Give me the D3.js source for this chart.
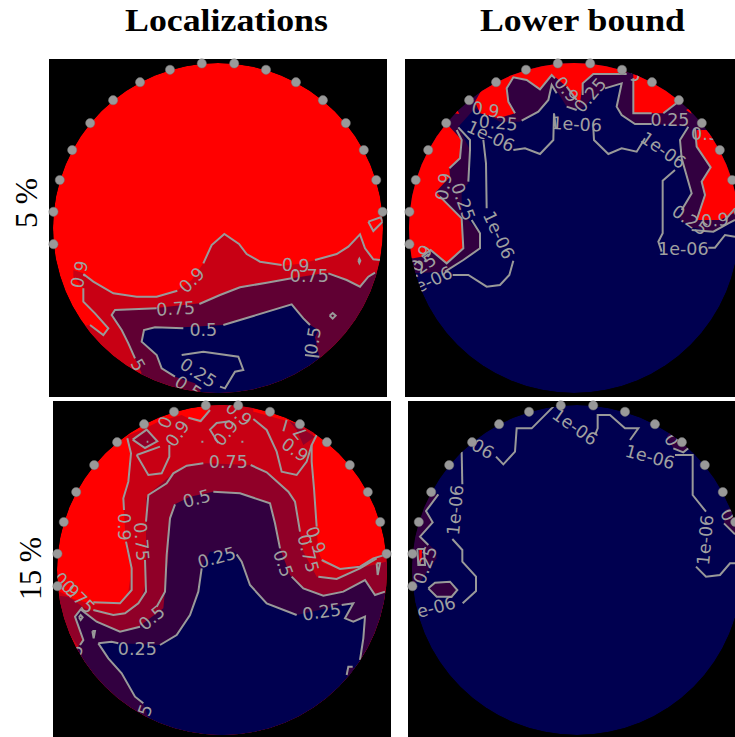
<!DOCTYPE html>
<html><head><meta charset="utf-8"><style>html,body{margin:0;padding:0;background:#fff;overflow:hidden}svg{display:block}text{font-family:"DejaVu Sans"}</style>
<script src="https://cdn.jsdelivr.net/npm/d3@7/dist/d3.min.js"></script></head><body>
<script>
// Column and row headings
const columnTitles = ["Localizations", "Lower bound"];
const rowTitles = ["5 %", "15 %"];
// Sensor angles, degrees clockwise from the top of the disc
const sensorAngles = [-95.625,-84.375,-73.125,-61.875,-50.625,-39.375,-28.125,-16.875,-5.625,5.625,16.875,28.125,39.375,50.625,61.875,73.125,84.375];

// Panel A: Localizations, 5 %
const a_regions = [
 {c:"#c80014",p:[[100,660],[130,670],[160,695],[220,730],[290,740],[350,740],[410,722],[455,690],[490,640],[515,585],[553,552],[597,582],[620,612],[660,635],[725,648],[790,640],[825,630],[890,612],[925,590],[960,553],[975,595],[1000,628],[1050,630],[1050,1050],[20,1050],[100,830],[150,825],[190,855],[205,835],[165,790],[130,755],[130,715],[100,680]]},
 {c:"#600033",p:[[215,795],[225,780],[340,775],[480,760],[540,735],[600,712],[680,698],[755,685],[860,668],[920,690],[960,710],[985,680],[1005,668],[1050,668],[1050,1050],[250,1050],[250,1000],[305,970],[285,925],[265,880],[245,840]]},
 {c:"#000050",p:[[305,880],[312,840],[345,832],[430,832],[550,825],[640,798],[755,763],[790,805],[810,825],[835,840],[825,862],[838,922],[900,1050],[490,1050],[480,1020],[465,1000],[405,980],[365,955],[350,915]]}
];
const a_lines = [
 [[130,672],[160,695],[220,730],[290,740],[350,740],[412,722]],
 [[490,640],[515,585],[553,552],[597,582],[620,612],[660,635],[725,645]],
 [[825,630],[890,612],[925,590],[960,553],[975,595],[1000,628],[1020,630]],
 [[130,715],[130,755],[165,790],[205,835],[190,855],[150,825]],
 [[985,515],[1022,502],[1028,515],[1000,543],[985,515]],
 [[955,632],[958,626],[961,632],[958,639],[955,632]],
 [[350,775],[225,780],[215,795],[245,840],[265,880],[285,925]],
 [[478,762],[540,735],[600,712],[680,698],[755,685]],
 [[865,670],[920,690],[960,710],[985,680],[1005,668]],
 [[430,835],[345,832],[312,840],[305,875],[350,915],[365,955],[405,980]],
 [[550,825],[640,798],[755,763],[790,805],[810,825]],
 [[795,915],[838,920]],
 [[869,797],[878,789],[887,797],[878,806],[869,797]],
 [[425,915],[490,905],[595,920],[610,960],[585,965],[555,1015],[540,1010]]
];
const a_labels = [
 ["0.9",118,673,-78],["0.9",455,690,-45],["0.9",767,645,3],["0.75",808,677,0],["0.75",407,775,-3],
 ["0.5",490,838,0],["0.5",818,872,-80],["5",295,945,60],["0.25",475,968,33],["0.5",445,1012,33]
];

// Panel B: Lower bound, 5 %
const b_regions = [
 {c:"#320040",p:[[40,670],[135,665],[190,630],[240,595],[240,550],[205,510],[185,490],[185,420],[205,400],[210,300],[180,240],[175,230],[225,175],[300,215],[360,215],[415,185],[445,150],[455,105],[475,130],[500,170],[530,180],[555,170],[570,150],[615,115],[665,100],[650,170],[665,195],[705,222],[755,222],[870,230],[840,270],[845,325],[875,430],[845,480],[840,510],[870,530],[940,545],[985,520],[1030,505],[1030,20],[10,20],[10,670]]},
 {c:"#ff0000",p:[[135,215],[185,270],[180,325],[148,355],[150,380],[108,425],[185,505],[190,595],[140,640],[92,600],[65,620],[40,625],[10,625],[10,215]]},
 {c:"#ff0000",p:[[225,155],[240,190],[295,205],[345,190],[325,155],[320,115],[340,82],[380,90],[420,118],[455,75],[470,85],[500,110],[530,150],[540,160],[548,100],[580,72],[640,72],[690,65],[690,20],[300,20]]},
 {c:"#ff0000",p:[[700,60],[700,190],[790,190],[835,155],[860,110],[730,30]]},
 {c:"#ff0000",p:[[890,240],[890,290],[932,352],[905,395],[915,435],[890,510],[960,510],[1040,470],[1040,280],[930,240]]},
 {c:"#ff0000",p:[[162,190],[172,180],[178,192]]},
 {c:"#ff0000",p:[[858,180],[868,175],[875,192]]}
];
const b_lines = [
 [[250,270],[258,340],[260,475]],
 [[340,300],[375,295],[420,312],[460,270],[462,190],[468,235]],
 [[580,235],[582,270],[625,312],[665,295],[710,305],[735,265]],
 [[825,360],[788,392],[788,550],[775,575],[785,605]],
 [[925,593],[945,593],[975,555],[1005,560]],
 [[158,675],[205,675],[260,710],[300,705],[328,675],[340,632]],
 [[135,665],[190,630],[240,595],[240,550],[215,510]],
 [[175,232],[210,270],[210,300],[205,395]],
 [[365,212],[415,185],[445,150],[455,105],[470,130]],
 [[500,170],[530,180]],
 [[615,115],[665,100],[650,170],[665,195],[705,222],[755,222]],
 [[865,230],[840,270],[845,325],[875,430],[845,480]],
 [[875,540],[940,545],[985,520],[1005,510]],
 [[170,240],[185,270],[180,325],[148,355]],
 [[120,440],[185,505],[190,595],[140,640],[92,600],[65,620]],
 [[345,190],[325,155],[320,115],[340,82],[380,90],[420,118],[455,75],[465,85]],
 [[500,110],[530,150]],
 [[548,135],[548,100],[580,72],[640,72],[680,72]],
 [[700,85],[700,190],[755,190]],
 [[790,190],[835,155]],
 [[885,235],[890,290],[932,352],[905,395],[915,435],[890,510]],
 [[975,510],[1005,475]]
];
const b_labels = [
 ["0.9",257,178,10],["0.25",295,218,5],["1e-06",272,258,25],["1e-06",530,222,3],["0.9",500,118,50],["0.25",570,135,-50],
 ["0.25",810,210,0],["1e-06",790,300,35],["0.9",130,410,-80],["0.25",190,455,70],["1e-06",297,555,65],
 ["0.9",62,625,-60],["0.25",55,655,-35],["1e-06",85,695,-25],["0.25",870,510,35],["0.9",945,510,-5],["1e-06",850,595,0],["0.9",915,250,0],["5",705,75,0]
];

// Panel C: Localizations, 15 %
const c_regions = [
 {c:"#c80014",p:[[20,590],[60,590],[100,612],[160,628],[240,628],[265,590],[275,520],[258,460],[250,310],[265,260],[272,175],[262,122],[325,95],[355,80],[425,60],[445,70],[480,85],[510,40],[510,0],[640,0],[640,50],[730,75],[790,90],[826,100],[820,118],[815,200],[822,280],[830,400],[835,470],[850,505],[900,522],[960,510],[1000,490],[1060,470],[1060,1040],[20,1040]]},
 {c:"#900028",p:[[278,134],[320,104],[352,139],[315,159]]},
 {c:"#900028",p:[[745,75],[785,100],[825,125],[790,150],[770,105]]},
 {c:"#900028",p:[[20,600],[85,605],[135,640],[200,660],[250,660],[300,625],[318,560],[318,310],[340,285],[400,235],[440,212],[500,205],[630,210],[680,232],[745,290],[765,320],[780,410],[790,470],[830,545],[890,552],[960,520],[1060,495],[1060,1040],[20,1040]]},
 {c:"#c80014",p:[[90,720],[112,750],[120,770],[80,760]]},
 {c:"#320040",p:[[122,643],[170,680],[240,710],[290,700],[370,640],[385,480],[390,370],[400,330],[450,305],[520,290],[600,295],[690,325],[705,385],[720,460],[750,540],[790,580],[850,602],[910,590],[975,555],[1005,600],[1060,590],[1060,1040],[20,1040],[60,770],[115,755],[130,735],[105,665]]},
 {c:"#000050",p:[[175,745],[215,740],[240,745],[360,750],[410,720],[450,660],[475,590],[485,520],[510,470],[585,470],[605,500],[630,570],[680,625],[770,660],[905,630],[940,625],[915,670],[940,680],[975,665],[970,730],[962,795],[1000,800],[1000,1040],[300,1040],[325,968],[310,925],[285,905],[245,835],[205,790]]},
 {c:"#320040",p:[[938,815],[925,815],[918,832],[925,850],[950,830]]}
];
const c_lines = [
 [[262,130],[273,175],[265,260],[250,310],[252,345]],
 [[258,440],[275,520],[275,585],[240,625],[160,622]],
 [[490,205],[440,212],[400,235],[380,265],[325,300],[318,380]],
 [[632,210],[680,232],[745,290],[765,320],[780,410]],
 [[315,495],[318,590],[295,625],[255,655],[220,660],[160,645]],
 [[835,545],[890,552],[960,520],[1010,490]],
 [[830,120],[815,150],[815,200],[822,280],[830,395]],
 [[845,495],[900,522],[960,515],[1000,490],[1040,478]],
 [[405,328],[390,370],[380,480],[375,590],[350,635]],
 [[300,695],[240,710],[170,680],[122,643],[105,665],[130,735],[120,750]],
 [[520,290],[600,295],[690,325],[705,385],[720,460]],
 [[755,545],[790,580],[850,602],[910,590],[975,555],[1005,600],[1035,590]],
 [[175,745],[215,740],[235,745]],
 [[360,750],[410,720],[450,660],[475,590],[485,520]],
 [[590,478],[605,500],[630,570],[680,625],[770,660]],
 [[905,630],[940,625],[915,670],[940,680],[975,665],[970,730],[960,795]],
 [[175,745],[205,790],[245,835],[285,905],[310,925]],
 [[278,134],[320,104],[352,139],[315,159],[278,134]],
 [[290,180],[325,240],[365,235],[388,185],[388,150]],
 [[290,180],[360,155]],
 [[445,68],[482,78],[510,45]],
 [[570,79],[530,84],[510,104],[535,144]],
 [[640,72],[680,105],[710,170],[725,230],[770,240],[800,200],[815,150]],
 [[730,109],[740,74]],
 [[117,667],[122,660],[128,667],[122,675],[117,667]],
 [[157,708],[165,708],[161,730],[157,708]],
 [[1010,505],[1020,505],[1013,540],[1010,505]],
 [[920,840],[925,815],[938,815]],
 [[484,140],[490,140]],[[604,140],[610,140]],[[320,140],[325,140]]
];
const c_labels = [
 ["0.75",565,200,0],["0.5",470,310,-15],["0.25",530,487,-15],["0.25",845,650,-8],["0.25",292,760,0],["0.5",335,668,-40],
 ["0.5",730,505,70],["0.75",805,475,75],["0.9",828,435,70],["0.9",252,395,90],["0.75",305,440,85],
 ["0.9",80,570,45],["0.75",115,605,45],["0.9",412,115,-55],["0",375,82,-65],["0.9",557,113,-50],["0.9",597,56,40],
 ["0.9",765,164,35],["7",780,114,-130],["5",315,945,-70],["5",108,765,-70]
];

// Panel D: Lower bound, 15 %
const d_regions = [
 {c:"#320040",p:[[115,298],[78,348],[98,382],[60,425],[105,465],[110,490],[60,560],[0,570],[0,300]]},
 {c:"#320040",p:[[85,580],[105,563],[150,560],[172,585],[155,605],[110,605]]},
 {c:"#320040",p:[[800,125],[820,160],[850,172],[880,150],[820,100]]},
 {c:"#320040",p:[[972,385],[1005,418],[1040,400],[1005,335],[975,345]]},
 {c:"#ff0000",p:[[58,465],[66,465],[65,500],[58,502]]}
];
const d_lines = [
 [[460,35],[395,100],[350,100],[345,170],[310,208],[288,185]],
 [[185,170],[187,268]],
 [[157,432],[187,465],[187,500],[228,545],[228,588],[188,625]],
 [[585,120],[593,100],[593,60],[630,60],[675,100],[715,100],[690,135]],
 [[825,180],[878,180],[878,300],[918,350]],
 [[888,515],[918,545],[960,540],[990,505],[1005,505]],
 [[115,298],[78,348],[98,382],[60,425],[85,450]],
 [[85,580],[105,563],[150,560],[172,585],[155,605],[110,605],[85,580]],
 [[52,462],[72,462],[75,510],[55,510],[52,462]],
 [[820,160],[850,172],[865,160]],
 [[972,385],[1005,418]]
];
const d_labels = [
 ["1e-06",212,140,30],["1e-06",92,640,-15],["1e-06",165,345,-85],["1e-06",525,95,35],["1e-06",750,185,15],["1e-06",915,435,-85],
 ["0.25",75,510,-70],["0",815,135,60],["0",983,360,60]
];

const panels = [
 {x:49,y:59,w:338,h:338,ox:40,oy:50,cx:534,cy:534,regions:a_regions,lines:a_lines,labels:a_labels},
 {x:405,y:59,w:338,h:338,ox:400,oy:50,cx:522,cy:534,regions:b_regions,lines:b_lines,labels:b_labels},
 {x:53,y:401,w:338,h:338,ox:40,oy:395,cx:546,cy:525,regions:c_regions,lines:c_lines,labels:c_labels},
 {x:408,y:401,w:338,h:338,ox:400,oy:395,cx:531,cy:525,regions:d_regions,lines:d_lines,labels:d_labels}
];
const baseFill = ["#ff0000","#000050","#ff0000","#000050"];

const svg = d3.select("body").append("svg").attr("width",735).attr("height",737);
svg.append("rect").attr("width",735).attr("height",737).attr("fill","#fff");

const R = 495;
panels.forEach((p,i)=>{
  const x = d3.scaleLinear().domain([0,3]).range([p.ox,p.ox+1]);
  const y = d3.scaleLinear().domain([0,3]).range([p.oy,p.oy+1]);
  const line = d3.line().x(d=>x(d[0])).y(d=>y(d[1]));
  svg.append("rect").attr("x",p.x).attr("y",p.y).attr("width",p.w).attr("height",p.h).attr("fill","#000");
  const id = "disc"+i;
  svg.append("clipPath").attr("id",id).append("circle").attr("cx",x(p.cx)).attr("cy",y(p.cy)).attr("r",R/3);
  const g = svg.append("g").attr("clip-path",`url(#${id})`);
  g.append("circle").attr("cx",x(p.cx)).attr("cy",y(p.cy)).attr("r",R/3).attr("fill",baseFill[i]);
  g.selectAll("path.r").data(p.regions).join("path").attr("class","r").attr("d",d=>line(d.p)+"Z").attr("fill",d=>d.c);
  g.selectAll("path.l").data(p.lines).join("path").attr("class","l").attr("d",line)
    .attr("fill","none").attr("stroke","#999").attr("stroke-width",2).attr("stroke-linejoin","miter");
  g.selectAll("text").data(p.labels).join("text").text(d=>d[0])
    .attr("transform",d=>`translate(${x(d[1])},${y(d[2])}) rotate(${d[3]})`)
    .attr("text-anchor","middle").attr("dy","0.36em").attr("font-size",17.5).attr("fill","#a0a0a0");
  svg.append("g").selectAll("circle").data(sensorAngles).join("circle")
    .attr("cx",a=>x(p.cx)+(R+1)/3*Math.sin(a*Math.PI/180))
    .attr("cy",a=>y(p.cy)-(R+1)/3*Math.cos(a*Math.PI/180))
    .attr("r",4.6).attr("fill","#999").attr("stroke","#777").attr("stroke-width",0.5);
});

const serif = '"Liberation Serif"';
svg.selectAll("text.col").data(columnTitles).join("text").attr("class","col").text(d=>d)
  .attr("x",(d,i)=>[125,480][i]).attr("y",31).attr("textLength",(d,i)=>[203,205][i]).attr("lengthAdjust","spacingAndGlyphs")
  .style("font-family",serif).style("font-weight","bold").attr("font-size",31).attr("fill","#000");
svg.selectAll("text.row").data(rowTitles).join("text").attr("class","row").text(d=>d)
  .attr("transform",(d,i)=>`translate(${[37,41][i]},${[228,600][i]}) rotate(-90)`)
  .attr("textLength",(d,i)=>[50,63][i]).attr("lengthAdjust","spacingAndGlyphs")
  .style("font-family",serif).attr("font-size",32).attr("fill","#000");
</script></body></html>
